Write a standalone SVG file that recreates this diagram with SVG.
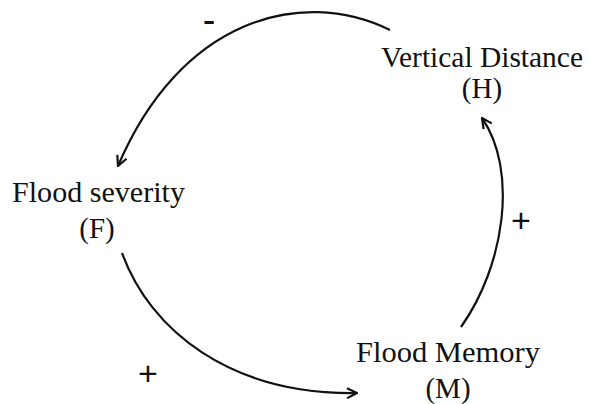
<svg xmlns="http://www.w3.org/2000/svg" width="589" height="404" viewBox="0 0 589 404">
<style>
.lbl{font-family:"Times New Roman","Liberation Serif",Times,serif;font-size:29px;fill:#111;text-anchor:middle}
.sign{font-family:"Liberation Sans",Arial,sans-serif;font-size:34px;fill:#111;text-anchor:middle}
.arc{fill:none;stroke:#111;stroke-width:2.2;marker-end:url(#ah)}
</style>
<defs>
<marker id="ah" viewBox="0 0 12 12" refX="11" refY="6" markerWidth="12" markerHeight="12" markerUnits="userSpaceOnUse" orient="auto">
<path d="M1,1 L11,6 L1,11" fill="none" stroke="#111" stroke-width="2.2" stroke-linejoin="miter"/>
</marker>
</defs>
<rect width="589" height="404" fill="#fff"/>
<g id="connectors">
<path class="arc" d="M390,30 C300,-14 180,20 118,166"/>
<path class="arc" d="M461,327 C505,265 518,170 482,118"/>
<path class="arc" d="M122,253 C150,330 230,395 357,393"/>
</g>
<g id="signs">
<text class="sign" x="209" y="33" style="font-size:38px">-</text>
<text class="sign" x="521" y="232">+</text>
<text class="sign" x="148" y="385">+</text>
</g>
<g id="node-H">
<text class="lbl" x="482" y="67" textLength="202" lengthAdjust="spacingAndGlyphs">Vertical Distance</text>
<text class="lbl" x="482" y="98">(H)</text>
</g>
<g id="node-F">
<text class="lbl" x="98.5" y="202" textLength="173" lengthAdjust="spacingAndGlyphs">Flood severity</text>
<text class="lbl" x="97" y="238">(F)</text>
</g>
<g id="node-M">
<text class="lbl" x="448" y="362" textLength="184" lengthAdjust="spacingAndGlyphs">Flood Memory</text>
<text class="lbl" x="448" y="398">(M)</text>
</g>
</svg>
